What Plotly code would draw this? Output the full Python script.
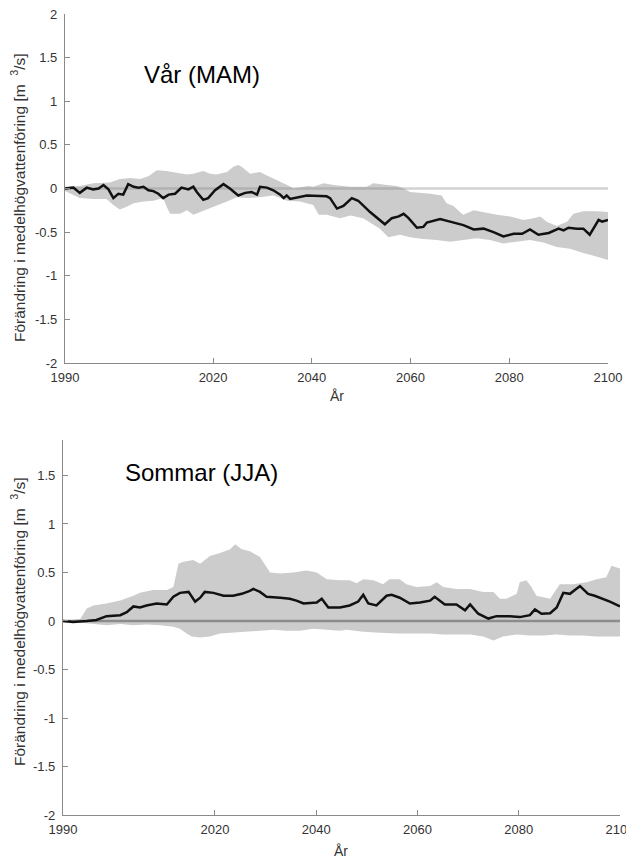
import plotly.graph_objects as go

# ---------------- data: top panel (Vår, MAM) ----------------
top_mean_years = [1990, 1991.7, 1993, 1994.4, 1995.7, 1996.8, 1997.8, 1998.8, 1999.8, 2000.8,
                  2001.8, 2002.8, 2003.9, 2004.9, 2005.9, 2006.9, 2007.9, 2008.9, 2009.9, 2011,
                  2012.3, 2013.6, 2015, 2016, 2016.7, 2018, 2019, 2020.4, 2022.1, 2023.4,
                  2025.1, 2026.5, 2027.8, 2028.9, 2029.5, 2030.9, 2032.2, 2033.6, 2034.3, 2034.9,
                  2035.6, 2037, 2039, 2043, 2043.7, 2045.1, 2046.4, 2048.1, 2049.4, 2051.8,
                  2054.8, 2056.2, 2057.6, 2058.6, 2059.6, 2061.3, 2062.6, 2063.3, 2066, 2068,
                  2070.7, 2072.8, 2074.8, 2076.8, 2078.8, 2080.9, 2082.6, 2084.2, 2085.9, 2088,
                  2090, 2091, 2092, 2093.7, 2095, 2096.3, 2097.4, 2098.1, 2098.8, 2100]
top_mean_vals = [0, 0.01, -0.05, 0.01, -0.01, 0, 0.04, -0.01, -0.11, -0.06,
                 -0.07, 0.05, 0.02, 0.01, 0.02, -0.02, -0.03, -0.06, -0.11, -0.07,
                 -0.06, 0.01, -0.01, 0.02, -0.04, -0.13, -0.11, -0.02, 0.05, 0.0,
                 -0.08, -0.05, -0.04, -0.07, 0.02, 0.01, -0.02, -0.07, -0.11, -0.08,
                 -0.12, -0.10, -0.08, -0.09, -0.11, -0.23, -0.20, -0.11, -0.14, -0.27,
                 -0.41, -0.34, -0.32, -0.29, -0.34, -0.45, -0.44, -0.39, -0.35, -0.38,
                 -0.42, -0.47, -0.46, -0.50, -0.55, -0.52, -0.52, -0.47, -0.53, -0.51,
                 -0.46, -0.48, -0.45, -0.46, -0.46, -0.53, -0.42, -0.36, -0.38, -0.36]

top_up_years = [1990, 1993, 1995.7, 1999.1, 2001.1, 2003.2, 2005.2, 2006.9, 2008.6, 2010.6,
                2012.6, 2014.7, 2016, 2018, 2019.4, 2020.7, 2022.8, 2024.1, 2025.1, 2025.8,
                2027.5, 2029.5, 2030.9, 2032.9, 2035, 2036.3, 2037.6, 2039.3, 2040.3, 2042.4,
                2044.4, 2045.7, 2047.8, 2051.1, 2052.5, 2055.2, 2057.2, 2058.6, 2059.9, 2064,
                2066.3, 2067.3, 2068.7, 2070, 2070.7, 2072.8, 2075.5, 2077.5, 2080.2, 2082.9,
                2084.9, 2086.3, 2087.6, 2089.6, 2091.7, 2093, 2095, 2097.8, 2100]
top_up_vals = [0.02, 0.03, 0.06, 0.07, 0.11, 0.12, 0.11, 0.14, 0.21, 0.20,
               0.18, 0.16, 0.17, 0.20, 0.17, 0.16, 0.19, 0.25, 0.27, 0.25,
               0.17, 0.19, 0.15, 0.10, 0.04, 0.0, 0.01, 0.03, 0.02, 0.06,
               0.04, 0.03, 0.02, 0.02, 0.06, 0.04, 0.03, 0.0, -0.04, -0.06,
               -0.08, -0.17, -0.20, -0.27, -0.30, -0.25, -0.28, -0.30, -0.32, -0.36,
               -0.34, -0.32, -0.38, -0.43, -0.38, -0.29, -0.26, -0.26, -0.27]

top_lo_years = [1990, 1993, 1995.7, 1998.4, 1999.8, 2001.1, 2002.5, 2003.9, 2005.9, 2007.9,
                2009.9, 2010.6, 2011.3, 2013.3, 2014.7, 2016, 2017.4, 2019.4, 2021.4, 2022.8,
                2024.8, 2026.8, 2029.5, 2032.2, 2035, 2037.6, 2040.3, 2041.4, 2043, 2045.7,
                2047.8, 2050.4, 2053.8, 2055.5, 2057.9, 2059.9, 2062.6, 2065.3, 2068, 2070.7,
                2073.4, 2076.1, 2078.8, 2081.5, 2084.2, 2086.9, 2089.6, 2092.3, 2095, 2097.1, 2100]
top_lo_vals = [-0.03, -0.11, -0.12, -0.12, -0.19, -0.24, -0.21, -0.17, -0.15, -0.14,
               -0.11, -0.21, -0.29, -0.29, -0.25, -0.30, -0.27, -0.23, -0.18, -0.15,
               -0.10, -0.11, -0.10, -0.08, -0.14, -0.15, -0.19, -0.30, -0.30, -0.34,
               -0.31, -0.34, -0.46, -0.56, -0.53, -0.56, -0.58, -0.59, -0.61, -0.59,
               -0.57, -0.59, -0.63, -0.61, -0.59, -0.62, -0.67, -0.69, -0.74, -0.77, -0.82]

# ---------------- data: bottom panel (Sommar, JJA) ----------------
bot_mean_years = [1990, 1992, 1994.7, 1996.6, 1998.6, 2001.3, 2002.6, 2003.9, 2005.2, 2006.5,
                  2008.5, 2010.5, 2011.8, 2013.1, 2014.8, 2016.1, 2017.1, 2018, 2019.7, 2021.7,
                  2023.6, 2025.3, 2026.9, 2027.6, 2028.9, 2030.2, 2032.9, 2034.8, 2036.1, 2037.5,
                  2040.1, 2041.1, 2042.4, 2044.7, 2046.6, 2048.3, 2049.3, 2050.3, 2051.9, 2053.9,
                  2054.9, 2056.5, 2058.5, 2060.5, 2062.5, 2063.4, 2065.4, 2067.7, 2069.4, 2070.4,
                  2072, 2074, 2075.6, 2078.2, 2080.2, 2082.2, 2083.2, 2084.5, 2086.2, 2087.5,
                  2088.8, 2090.1, 2092.1, 2093.7, 2095, 2096.7, 2098, 2100]
bot_mean_vals = [0, -0.01, 0, 0.01, 0.05, 0.06, 0.09, 0.15, 0.14, 0.16,
                 0.18, 0.17, 0.25, 0.29, 0.30, 0.20, 0.24, 0.30, 0.29, 0.26,
                 0.26, 0.28, 0.31, 0.33, 0.30, 0.25, 0.24, 0.23, 0.21, 0.18,
                 0.19, 0.23, 0.14, 0.14, 0.16, 0.20, 0.27, 0.18, 0.16, 0.26,
                 0.27, 0.24, 0.18, 0.19, 0.21, 0.25, 0.17, 0.17, 0.11, 0.17,
                 0.075, 0.025, 0.05, 0.05, 0.04, 0.06, 0.12, 0.075, 0.08, 0.14,
                 0.29, 0.28, 0.36, 0.28, 0.26, 0.23, 0.20, 0.15]

bot_up_years = [1990, 1993.4, 1994.7, 1996, 1998.6, 2001.3, 2003.9, 2005.2, 2007.8, 2010.5,
                2011.8, 2012.8, 2013.8, 2015.7, 2017.1, 2019, 2021, 2023, 2024, 2025.3,
                2026.9, 2028.9, 2030.9, 2032.9, 2035.5, 2038.1, 2040.1, 2042.1, 2044.7, 2046.6,
                2048, 2049.3, 2051.3, 2053.2, 2054.5, 2056.5, 2057.8, 2059.8, 2062.5, 2063.8,
                2065.1, 2067.7, 2070.4, 2073, 2075, 2076.3, 2077.6, 2079.6, 2080.2, 2081.5,
                2082.5, 2083.5, 2086.2, 2088.1, 2090.8, 2093.4, 2095.4, 2097.3, 2098.3, 2100]
bot_up_vals = [0, 0.02, 0.13, 0.16, 0.18, 0.21, 0.26, 0.29, 0.32, 0.32,
               0.35, 0.59, 0.61, 0.63, 0.59, 0.67, 0.70, 0.74, 0.79, 0.74,
               0.72, 0.66, 0.50, 0.49, 0.50, 0.52, 0.50, 0.43, 0.42, 0.42,
               0.39, 0.43, 0.42, 0.38, 0.43, 0.43, 0.38, 0.35, 0.36, 0.40,
               0.35, 0.33, 0.33, 0.30, 0.30, 0.23, 0.23, 0.28, 0.40, 0.42,
               0.35, 0.26, 0.23, 0.38, 0.38, 0.40, 0.43, 0.45, 0.57, 0.54]

bot_lo_years = [1990, 1993.4, 1996, 1998.6, 2001.3, 2003.9, 2006.5, 2009.2, 2011.8, 2013.1,
                2014.4, 2015.4, 2017.1, 2019, 2021, 2023, 2025, 2026.9, 2028.9, 2031.5,
                2034.2, 2036.8, 2039.4, 2042.1, 2044.7, 2046, 2049.3, 2052.6, 2055.9, 2059.2,
                2062.5, 2065.1, 2067.7, 2070.4, 2073, 2075, 2076.9, 2079.6, 2082.2, 2084.8,
                2087.5, 2090.1, 2092.7, 2095.4, 2098, 2100]
bot_lo_vals = [0, -0.02, -0.03, -0.045, -0.03, -0.045, -0.035, -0.045, -0.06, -0.08,
               -0.13, -0.16, -0.17, -0.16, -0.13, -0.12, -0.12, -0.11, -0.10, -0.09,
               -0.10, -0.10, -0.08, -0.09, -0.10, -0.09, -0.11, -0.12, -0.13, -0.13,
               -0.13, -0.14, -0.14, -0.14, -0.16, -0.20, -0.16, -0.14, -0.15, -0.15,
               -0.14, -0.15, -0.15, -0.16, -0.16, -0.16]

x_tick_vals = [1990, 2020, 2040, 2060, 2080, 2100]
x_tick_text = ["1990", "2020", "2040", "2060", "2080", "2100"]
top_y_vals = [-2, -1.5, -1, -0.5, 0, 0.5, 1, 1.5, 2]
top_y_text = ["-2", "-1.5", "-1", "-0.5", "0", "0.5", "1", "1.5", "2"]
bot_y_vals = [-2, -1.5, -1, -0.5, 0, 0.5, 1, 1.5]
bot_y_text = ["-2", "-1.5", "-1", "-0.5", "0", "0.5", "1", "1.5"]
zero_years = [1990, 2100]
zero_vals = [0, 0]

titles = ["Vår (MAM)", "Sommar (JJA)"]
ylabel = "Förändring i medelhögvattenföring [m&nbsp;&nbsp;<sup>3</sup>/s]"
xlabel = "År"

FONT = "Arial, Liberation Sans, sans-serif"
BAND = "#cccccc"

fig = go.Figure()

def band(xu, yu, xl, yl, xa, ya):
    fig.add_trace(go.Scatter(x=list(xu) + list(xl)[::-1], y=list(yu) + list(yl)[::-1],
                             fill="toself", fillcolor=BAND, line=dict(width=0),
                             mode="lines", hoverinfo="skip", showlegend=False,
                             xaxis=xa, yaxis=ya))

band(top_up_years, top_up_vals, top_lo_years, top_lo_vals, "x", "y")
fig.add_trace(go.Scatter(x=zero_years, y=zero_vals, mode="lines",
                         line=dict(color="rgba(128,128,128,0.35)", width=2.5),
                         showlegend=False, xaxis="x", yaxis="y"))
fig.add_trace(go.Scatter(x=top_mean_years, y=top_mean_vals, mode="lines",
                         line=dict(color="#111111", width=2.5),
                         showlegend=False, xaxis="x", yaxis="y"))

band(bot_up_years, bot_up_vals, bot_lo_years, bot_lo_vals, "x2", "y2")
fig.add_trace(go.Scatter(x=zero_years, y=zero_vals, mode="lines",
                         line=dict(color="#8c8c8c", width=2.5),
                         showlegend=False, xaxis="x2", yaxis="y2"))
fig.add_trace(go.Scatter(x=bot_mean_years, y=bot_mean_vals, mode="lines",
                         line=dict(color="#111111", width=2.5),
                         showlegend=False, xaxis="x2", yaxis="y2"))

W, H = 626, 861
def px(x):
    return x / W
def py(y):
    return 1 - y / H

axcommon = dict(showgrid=False, zeroline=False, showline=True, linecolor="#8a8a8a",
                linewidth=1.2, ticks="inside", ticklen=5, tickcolor="#8a8a8a",
                tickfont=dict(family=FONT, size=13, color="#333333"),
                mirror=False, automargin=False, ticklabeloverflow="allow")

fig.update_layout(
    width=W, height=H, margin=dict(l=0, r=0, t=0, b=0, pad=0),
    paper_bgcolor="white", plot_bgcolor="white", showlegend=False,
    xaxis=dict(axcommon, domain=[px(65), px(608)], range=[1990, 2100],
               tickvals=x_tick_vals, ticktext=x_tick_text, anchor="y", ticklabelstandoff=2),
    yaxis=dict(axcommon, domain=[py(363), py(14)], range=[-2, 2],
               tickvals=top_y_vals, ticktext=top_y_text, anchor="x", ticklabelstandoff=4),
    xaxis2=dict(axcommon, domain=[px(63), px(620)], range=[1990, 2100],
                tickvals=x_tick_vals, ticktext=x_tick_text, anchor="y2", ticklabelstandoff=2),
    yaxis2=dict(axcommon, domain=[py(815), py(439.6)], range=[-2, 1.87],
                tickvals=bot_y_vals, ticktext=bot_y_text, anchor="x2", ticklabelstandoff=4),
)

ann = []
ann.append(dict(text=titles[0], x=px(202), y=py(75), xref="paper", yref="paper",
                showarrow=False, xanchor="center", yanchor="middle",
                font=dict(family=FONT, size=24, color="#000000")))
ann.append(dict(text=titles[1], x=px(202), y=py(472), xref="paper", yref="paper",
                showarrow=False, xanchor="center", yanchor="middle",
                font=dict(family=FONT, size=24, color="#000000")))
for yc in (198, 622):
    ann.append(dict(text=ylabel, x=px(18), y=py(yc), xref="paper", yref="paper",
                    showarrow=False, textangle=-90, xanchor="center", yanchor="middle",
                    font=dict(family=FONT, size=15.5, color="#333333")))
for xc, yc in ((337, 396), (341, 851)):
    ann.append(dict(text=xlabel, x=px(xc), y=py(yc), xref="paper", yref="paper",
                    showarrow=False, xanchor="center", yanchor="middle",
                    font=dict(family=FONT, size=14, color="#333333")))
fig.update_layout(annotations=ann)

fig.write_html("out.html")
